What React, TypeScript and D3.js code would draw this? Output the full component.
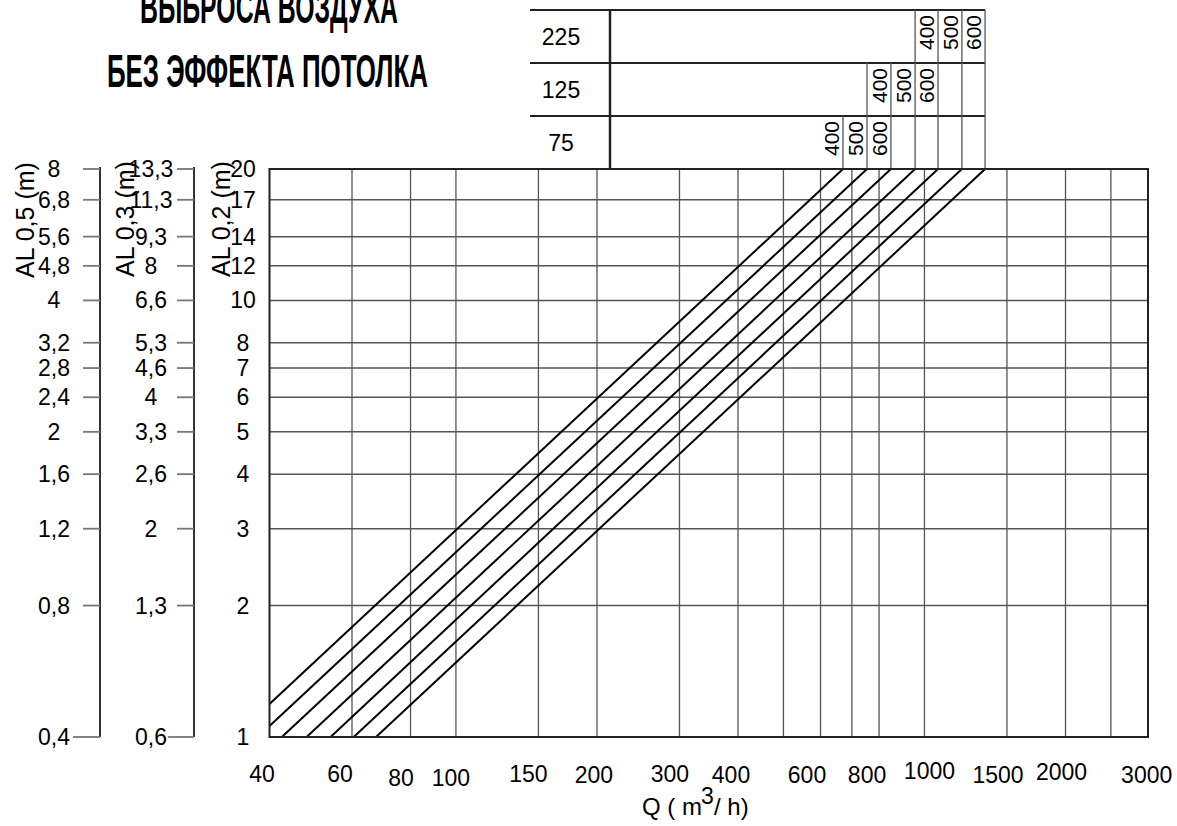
import React from 'react';
import * as d3 from 'd3';

// ---------- data ----------
const qTickLabels = [40, 60, 80, 100, 150, 200, 300, 400, 600, 800, 1000, 1500, 2000, 3000];
const qGridValues = [60, 80, 100, 150, 200, 300, 400, 500, 600, 700, 800, 1000, 1500, 2000, 2500];
const al02Ticks = [20, 17, 14, 12, 10, 8, 7, 6, 5, 4, 3, 2, 1];
const al03Labels = ['13,3', '11,3', '9,3', '8', '6,6', '5,3', '4,6', '4', '3,3', '2,6', '2', '1,3', '0,6'];
const al05Labels = ['8', '6,8', '5,6', '4,8', '4', '3,2', '2,8', '2,4', '2', '1,6', '1,2', '0,8', '0,4'];

// seven throw lines (Q in m3/h, AL0,2 in m)
const lineNames = ['75/400', '75/500', '75/600 = 125/400', '125/500', '125/600 = 225/400', '225/500', '225/600'];
const lineStartQ = [40, 40, 42.5, 48, 54, 60.5, 67.5];
const lineStartAL = [1.19, 1.06, 1, 1, 1, 1, 1];
const lineEndQ = [670, 754, 848, 955, 1069, 1202, 1347];
const lineEndAL = [20, 20, 20, 20, 20, 20, 20];

// selection table above the plot
const tableRowLabels = ['225', '125', '75'];
const tableRowFirstLine = [4, 2, 0];
const tableColLabels = ['400', '500', '600'];

const titleLines = ['ВЫБРОСА ВОЗДУХА', 'БЕЗ ЭФФЕКТА ПОТОЛКА'];

// ---------- layout ----------
const W = 1177;
const H = 826;
const PL = 269.5, PR = 1148, PT = 169, PB = 737;
const FONT = "'Liberation Sans', Arial, Helvetica, sans-serif";
const FS = 23;
// hand-lettered offsets of the Q tick labels relative to their grid value (layout only)
const xLabelNudgeX = [-7.5, -12, -9.5, -5, -10, -3, -9.5, -7, -13.5, -12, 5, -9, -4, -1.3];
const xLabelNudgeY = [0, 0, 4, 4, 0, 1, 0, 1, 1, 1, -3, 1, -2, 1];

export default function App() {
  const x = d3.scaleLog().domain([40, 3000]).range([PL, PR]);
  const y = d3.scaleLog().domain([1, 20]).range([PB, PT]);
  const line = d3.line<[number, number]>().x(d => x(d[0])).y(d => y(d[1]));

  const tableX0 = 530, tableDiv = 610;
  const rowTops = [10, 63, 116];
  const rowBottoms = [63, 116, PT];
  const tableRight = x(lineEndQ[lineEndQ.length - 1]);

  const gridColor = '#555';
  const dark = '#222';

  return (
    <svg width={W} height={H} style={{ position: 'absolute', left: 0, top: 0, background: '#fff' }} fontFamily={FONT}>
      <rect x={0} y={0} width={W} height={H} fill="#fff" />
      {/* title */}
      <text x={140} y={23} fontSize={47} fontWeight="bold" textLength={258} lengthAdjust="spacingAndGlyphs" fill="#000">{titleLines[0]}</text>
      <text x={107} y={87} fontSize={47} fontWeight="bold" textLength={321} lengthAdjust="spacingAndGlyphs" fill="#000">{titleLines[1]}</text>

      {/* table */}
      {rowTops.map((t, i) => (
        <line key={'th' + i} x1={tableX0} x2={tableRight} y1={t} y2={t} stroke={dark} strokeWidth={2} />
      ))}
      <line x1={tableDiv} x2={tableDiv} y1={rowTops[0] - 1} y2={PT} stroke={dark} strokeWidth={2.5} />
      {tableRowLabels.map((lab, r) => {
        const first = tableRowFirstLine[r];
        const verts = [] as number[];
        for (let k = Math.max(0, first - 1); k < lineEndQ.length; k++) verts.push(k);
        return (
          <g key={'row' + r}>
            <text x={561} y={(rowTops[r] + rowBottoms[r]) / 2} fontSize={FS} textAnchor="middle" dominantBaseline="central" fill="#000">{lab}</text>
            {verts.map(k => (
              <line key={k} x1={x(lineEndQ[k])} x2={x(lineEndQ[k])} y1={rowTops[r]} y2={rowBottoms[r]} stroke={gridColor} strokeWidth={1.3} />
            ))}
            {tableColLabels.map((c, ci) => {
              const cx = x(lineEndQ[first + ci]) - 11.7;
              const cy = rowTops[r] + 5;
              return (
                <text key={c} x={0} y={0} transform={`translate(${cx},${cy}) rotate(-90)`} fontSize={21} textAnchor="end" dominantBaseline="central" fill="#000">{c}</text>
              );
            })}
          </g>
        );
      })}

      {/* grid */}
      {qGridValues.map(v => (
        <line key={'gx' + v} x1={x(v)} x2={x(v)} y1={PT} y2={PB} stroke={gridColor} strokeWidth={1.3} />
      ))}
      {al02Ticks.filter(v => v !== 1 && v !== 20).map(v => (
        <line key={'gy' + v} x1={PL} x2={PR} y1={y(v)} y2={y(v)} stroke={gridColor} strokeWidth={1.5} />
      ))}

      {/* throw lines */}
      {lineNames.map((n, i) => (
        <path key={n} d={line([[lineStartQ[i], lineStartAL[i]], [lineEndQ[i], lineEndAL[i]]]) || ''} fill="none" stroke="#000" strokeWidth={2} />
      ))}

      {/* plot frame */}
      <rect x={PL} y={PT} width={PR - PL} height={PB - PT} fill="none" stroke={dark} strokeWidth={2} />

      {/* AL 0,2 labels */}
      {al02Ticks.map(v => (
        <text key={'l2' + v} x={243} y={y(v)} fontSize={FS} textAnchor="middle" dominantBaseline="central" fill="#000">{v}</text>
      ))}

      {/* AL 0,5 axis */}
      <line x1={100} x2={100} y1={y(20) - 2} y2={PB} stroke="#333" strokeWidth={2} />
      {al05Labels.map((lab, i) => {
        const yy = y(al02Ticks[i]);
        const last = i === al05Labels.length - 1;
        return (
          <g key={'l5' + i}>
            <line x1={last ? 73 : 83} x2={100} y1={yy} y2={yy} stroke="#777" strokeWidth={1.8} />
            <text x={54} y={yy} fontSize={FS} textAnchor="middle" dominantBaseline="central" fill="#000">{lab}</text>
          </g>
        );
      })}
      {/* AL 0,3 axis */}
      <line x1={194} x2={194} y1={y(20) - 2} y2={PB} stroke="#333" strokeWidth={2} />
      {al03Labels.map((lab, i) => {
        const yy = y(al02Ticks[i]);
        const last = i === al03Labels.length - 1;
        return (
          <g key={'l3' + i}>
            <line x1={last ? 168 : 177} x2={194} y1={yy} y2={yy} stroke="#777" strokeWidth={1.8} />
            <text x={151} y={yy} fontSize={FS} textAnchor="middle" dominantBaseline="central" fill="#000">{lab}</text>
          </g>
        );
      })}

      {/* axis titles */}
      <text transform="translate(25,220) rotate(-90)" fontSize={25} textAnchor="middle" dominantBaseline="central" fill="#000">AL 0,5 (m)</text>
      <text transform="translate(125,219) rotate(-90)" fontSize={25} textAnchor="middle" dominantBaseline="central" fill="#000">AL 0,3 (m)</text>
      <text transform="translate(221,219) rotate(-90)" fontSize={25} textAnchor="middle" dominantBaseline="central" fill="#000">AL 0,2 (m)</text>

      {/* x tick labels */}
      {qTickLabels.map((v, i) => (
        <text key={'xt' + v} x={x(v) + xLabelNudgeX[i]} y={782 + xLabelNudgeY[i]} fontSize={FS} textAnchor="middle" fill="#000">{v}</text>
      ))}
      <text x={642} y={815} fontSize={24} fill="#000">Q ( m</text>
      <text x={701} y={804} fontSize={23} fill="#000">3</text>
      <text x={714} y={815} fontSize={24} fill="#000">/ h)</text>
    </svg>
  );
}
